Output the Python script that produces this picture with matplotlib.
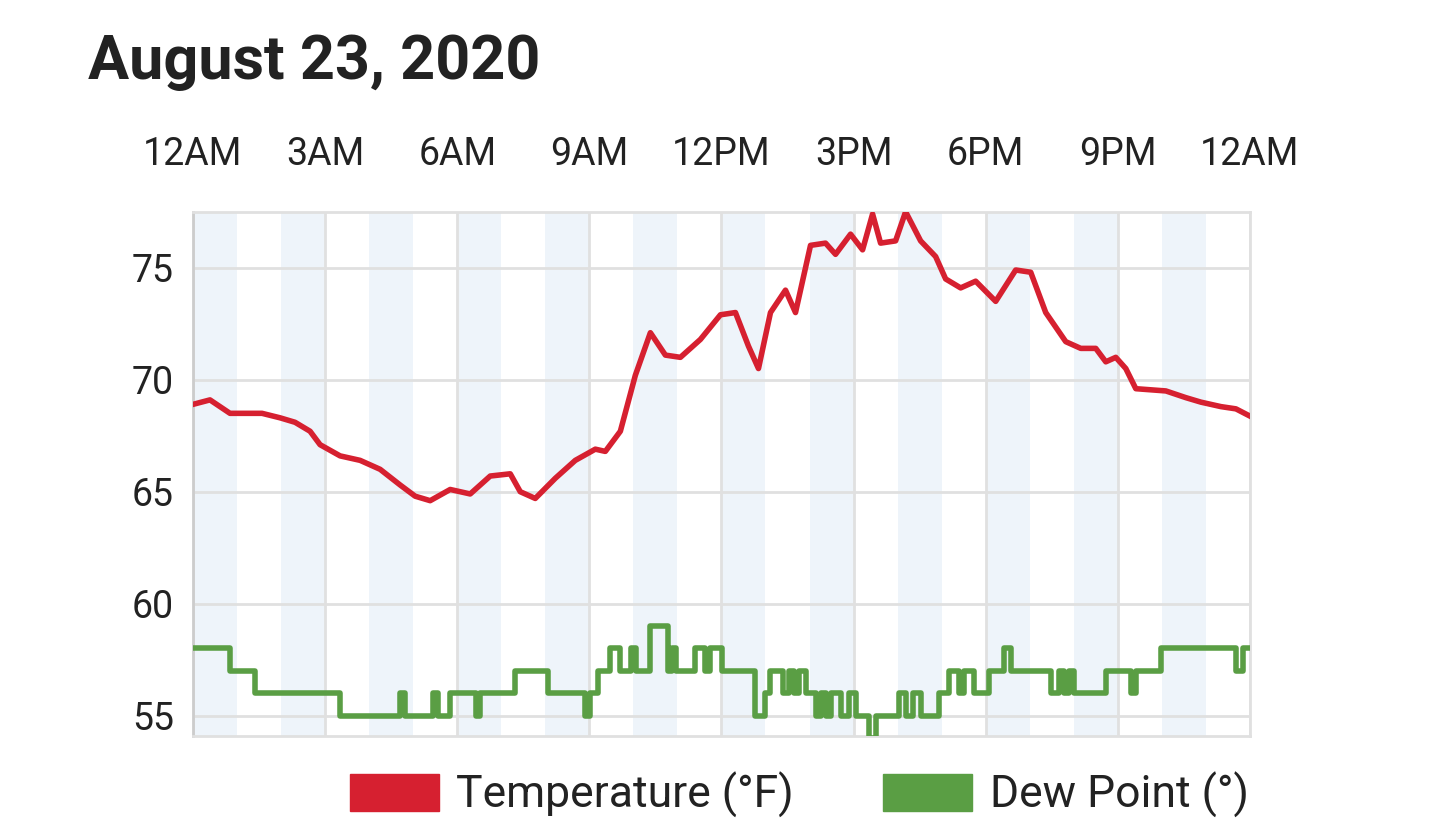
import numpy as np
import matplotlib.pyplot as plt
from matplotlib.patches import Patch

plt.rcParams['font.family'] = ['Roboto', 'DejaVu Sans']

# -------------------
# Data (hours since midnight, degrees F)
# -------------------

temp_x = [193, 210, 230, 262, 280, 295, 310, 320, 340, 360, 380, 400, 415, 430, 450,
          470, 490, 510, 520, 535, 555, 575, 595, 605, 620, 635, 650, 665, 680, 700,
          720, 735, 748, 758, 770, 785, 795, 810, 825, 835, 850, 862, 872, 880, 895,
          905, 920, 935, 945, 960, 975, 995, 1015, 1030, 1045, 1065, 1080, 1095, 1105,
          1115, 1125, 1135, 1165, 1185, 1200, 1220, 1235, 1248]
temp_hours = [(x - 193) / 44.0 for x in temp_x]
temperature = [68.9, 69.1, 68.5, 68.5, 68.3, 68.1, 67.7, 67.1, 66.6, 66.4, 66.0, 65.3,
               64.8, 64.6, 65.1, 64.9, 65.7, 65.8, 65.0, 64.7, 65.6, 66.4, 66.9, 66.8,
               67.7, 70.2, 72.1, 71.1, 71.0, 71.8, 72.9, 73.0, 71.5, 70.5, 73.0, 74.0,
               73.0, 76.0, 76.1, 75.6, 76.5, 75.8, 77.4, 76.1, 76.2, 77.5, 76.2, 75.5,
               74.5, 74.1, 74.4, 73.5, 74.9, 74.8, 73.0, 71.7, 71.4, 71.4, 70.8, 71.0,
               70.5, 69.6, 69.5, 69.2, 69.0, 68.8, 68.7, 68.4]

dew_x = [193, 230, 255, 340, 400, 405, 433, 438, 450, 476, 480, 515, 548, 585, 590,
         598, 610, 620, 631, 636, 650, 668, 672, 676, 680, 695, 705, 710, 722, 755,
         765, 770, 783, 788, 793, 798, 805, 815, 820, 825, 830, 840, 848, 855, 868,
         875, 893, 898, 905, 912, 920, 938, 948, 958, 963, 973, 988, 1003, 1010, 1050,
         1058, 1063, 1068, 1073, 1085, 1105, 1130, 1135, 1155, 1160, 1235, 1242]
dew_hours = [(x - 193) / 44.0 for x in dew_x]
dew_point = [58, 57, 56, 55, 56, 55, 56, 55, 56, 55, 56, 57, 56, 55, 56,
             57, 58, 57, 58, 57, 59, 57, 58, 57, 57, 58, 57, 58, 57, 55,
             56, 57, 56, 57, 56, 57, 56, 55, 56, 55, 56, 55, 56, 55, 54,
             55, 55, 56, 55, 56, 55, 56, 57, 56, 57, 56, 57, 58, 57, 56,
             57, 56, 57, 56, 56, 57, 56, 57, 57, 58, 57, 58]

tick_hours = [0, 3, 6, 9, 12, 15, 18, 21, 24]
tick_labels = ["12AM", "3AM", "6AM", "9AM", "12PM", "3PM", "6PM", "9PM", "12AM"]

# -------------------
# Plot
# -------------------

fig = plt.figure(figsize=(14.4, 8.24), dpi=100)
ax = fig.add_axes([0.134, 0.107, 0.734, 0.636])

for h in range(0, 24, 2):
    ax.axvspan(h, h + 1, color="#eef4fa", zorder=0, lw=0)

ax.plot(temp_hours, temperature, color="#d62030", linewidth=4, zorder=3)
ax.plot(dew_hours + [24], dew_point + [58], color="#5a9e44", linewidth=4,
        drawstyle="steps-post", zorder=3)

ax.set_xlim(0, 24)
ax.set_ylim(54.1, 77.5)
ax.set_xticks(tick_hours)
ax.set_xticklabels(tick_labels)
ax.set_yticks([55, 60, 65, 70, 75])
ax.xaxis.tick_top()
ax.tick_params(axis="both", length=0, labelsize=27, colors="#222222")
ax.tick_params(axis="x", pad=28)
ax.tick_params(axis="y", pad=44)
for lbl in ax.get_yticklabels():
    lbl.set_horizontalalignment("left")
ax.grid(color="#e0e0e0", linewidth=2)
ax.set_axisbelow(True)
for s in ax.spines.values():
    s.set_color("#e0e0e0")
    s.set_linewidth(2)
ax.spines["left"].set_color("#cccccc")

fig.text(0.061, 0.925, "August 23, 2020", fontsize=44, fontweight="bold",
         color="#222222", va="center")

handles = [Patch(color="#d62030", label="Temperature (°F)"),
           Patch(color="#5a9e44", label="Dew Point (°)")]
fig.legend(handles=handles, loc="center", bbox_to_anchor=(0.555, 0.035), ncol=2,
           frameon=False, fontsize=32, handlelength=2.0, handleheight=0.9,
           handletextpad=0.4, columnspacing=2.0, labelcolor="#222222")

fig.savefig("out.png", dpi=100)
